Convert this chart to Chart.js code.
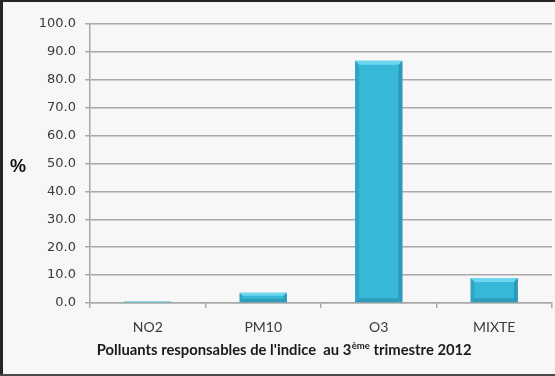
<!DOCTYPE html>
<html>
<head>
<meta charset="utf-8">
<script src="https://cdn.jsdelivr.net/npm/chart.js@4.4.1/dist/chart.umd.min.js"></script>
<style>
  html, body { margin: 0; padding: 0; background: #f7f7f7; }
  #wrap { width: 555px; height: 376px; position: relative; }
</style>
</head>
<body>
<div id="wrap"><canvas id="c" width="555" height="376"></canvas></div>
<script>
// Polluants responsables de l'indice, 3e trimestre 2012 (en %)
const categories = ['NO2', 'PM10', 'O3', 'MIXTE'];
const shares = [0.5, 3.7, 86.8, 9.0];
const yTicks = [0, 10, 20, 30, 40, 50, 60, 70, 80, 90, 100];

const axisTitle = { before: "Polluants responsables de l'indice  au 3", sup: 'ème', after: ' trimestre 2012' };
const yLabel = '%';

const GRID = '#a9a9a9';

// Frame and background of the picture
const framePlugin = {
  id: 'frame',
  beforeDraw(chart) {
    const { ctx, width, height } = chart;
    ctx.save();
    ctx.fillStyle = '#f7f7f7';
    ctx.fillRect(0, 0, width, height);
    ctx.restore();
  },
  afterDraw(chart) {
    const { ctx, width, height } = chart;
    ctx.save();
    ctx.fillStyle = '#262626';
    ctx.fillRect(0, 0, width, 2);
    ctx.fillRect(0, 0, 3, height);
    ctx.fillStyle = '#4a4a4a';
    ctx.fillRect(0, height - 2, width, 2);
    ctx.restore();
  }
};

// Soft bevel on each bar
const bevelPlugin = {
  id: 'bevel',
  afterDatasetsDraw(chart) {
    const { ctx } = chart;
    const meta = chart.getDatasetMeta(0);
    meta.data.forEach((bar) => {
      const w = bar.width;
      const l = bar.x - w / 2, r = bar.x + w / 2;
      const t = bar.y, b = bar.base;
      const h = b - t;
      if (h < 3) return;
      const bev = Math.min(4, h / 3);
      ctx.save();
      // top face
      ctx.fillStyle = 'rgba(120,220,245,0.85)';
      ctx.beginPath();
      ctx.moveTo(l, t); ctx.lineTo(r, t); ctx.lineTo(r - bev, t + bev); ctx.lineTo(l + bev, t + bev);
      ctx.closePath(); ctx.fill();
      // left face
      ctx.fillStyle = 'rgba(30,120,150,0.30)';
      ctx.beginPath();
      ctx.moveTo(l, t); ctx.lineTo(l + bev, t + bev); ctx.lineTo(l + bev, b - bev); ctx.lineTo(l, b);
      ctx.closePath(); ctx.fill();
      // right face
      ctx.fillStyle = 'rgba(25,105,135,0.38)';
      ctx.beginPath();
      ctx.moveTo(r, t); ctx.lineTo(r - bev, t + bev); ctx.lineTo(r - bev, b - bev); ctx.lineTo(r, b);
      ctx.closePath(); ctx.fill();
      // bottom face
      ctx.fillStyle = 'rgba(20,95,120,0.30)';
      ctx.beginPath();
      ctx.moveTo(l, b); ctx.lineTo(l + bev, b - bev); ctx.lineTo(r - bev, b - bev); ctx.lineTo(r, b);
      ctx.closePath(); ctx.fill();
      ctx.restore();
    });
  }
};

// Axis titles: "%" on the left, and the x title with its superscript
const titlesPlugin = {
  id: 'titles',
  afterDraw(chart) {
    const { ctx, chartArea } = chart;
    ctx.save();
    ctx.fillStyle = '#111';
    ctx.font = 'bold 18px "Liberation Sans", Arial, sans-serif';
    ctx.textAlign = 'center';
    ctx.textBaseline = 'middle';
    ctx.fillText(yLabel, 18, 167);

    const mainFont = 'bold 14.8px Lato, "Open Sans", sans-serif';
    const supFont = 'bold 9.5px Lato, "Open Sans", sans-serif';
    ctx.font = mainFont;
    const w1 = ctx.measureText(axisTitle.before).width;
    const w3 = ctx.measureText(axisTitle.after).width;
    ctx.font = supFont;
    const w2 = ctx.measureText(axisTitle.sup).width;
    const total = w1 + w2 + w3;
    const cx = (chartArea.left + chartArea.right) / 2 - 37;
    let x = cx - total / 2;
    const base = 355;
    ctx.textAlign = 'left';
    ctx.textBaseline = 'alphabetic';
    ctx.fillStyle = '#1a1a1a';
    ctx.font = mainFont;
    ctx.fillText(axisTitle.before, x, base);
    x += w1 + 0.5;
    ctx.font = supFont;
    ctx.fillText(axisTitle.sup, x, base - 6.5);
    x += w2;
    ctx.font = mainFont;
    ctx.fillText(axisTitle.after, x, base);
    ctx.restore();
  }
};

function barFill(context) {
  const chart = context.chart;
  const el = context.element;
  if (!chart.chartArea || !el || el.y === undefined) return '#38b8d8';
  if (el.base - el.y < 2) return '#6fa3b5';
  const g = chart.ctx.createLinearGradient(0, el.y, 0, el.base);
  g.addColorStop(0, '#40c4e4');
  g.addColorStop(1, '#31a4c2');
  return g;
}

new Chart(document.getElementById('c'), {
  type: 'bar',
  data: {
    labels: categories,
    datasets: [{
      data: shares,
      backgroundColor: barFill,
      borderWidth: 0,
      barPercentage: 0.41,
      categoryPercentage: 1.0
    }]
  },
  plugins: [framePlugin, bevelPlugin, titlesPlugin],
  options: {
    responsive: false,
    animation: false,
    devicePixelRatio: 1,
    layout: { padding: { top: 24, right: 3, left: 0, bottom: 0 } },
    plugins: {
      legend: { display: false },
      tooltip: { enabled: false },
      title: { display: false }
    },
    scales: {
      x: {
        grid: {
          display: true,
          drawOnChartArea: false,
          drawTicks: true,
          tickLength: 5,
          offset: true,
          color: GRID,
          lineWidth: 1.5
        },
        border: { display: true, color: GRID, width: 1.5 },
        ticks: {
          color: '#3a3a3a',
          font: { family: 'Lato, "Open Sans", sans-serif', size: 14 },
          padding: 11
        },
        afterFit(scale) { scale.height = 73; }
      },
      y: {
        min: 0,
        max: 100,
        afterBuildTicks(scale) { scale.ticks = yTicks.map(v => ({ value: v })); },
        grid: {
          color: GRID,
          lineWidth: 1.5,
          drawTicks: true,
          tickLength: 5
        },
        border: { display: true, color: GRID, width: 1.5 },
        ticks: {
          color: '#3a3a3a',
          font: { family: '"DejaVu Sans", Verdana, sans-serif', size: 13 },
          padding: 9,
          callback: (v) => Number(v).toFixed(1)
        },
        afterFit(scale) { scale.width = 90; }
      }
    }
  }
});
</script>
</body>
</html>
